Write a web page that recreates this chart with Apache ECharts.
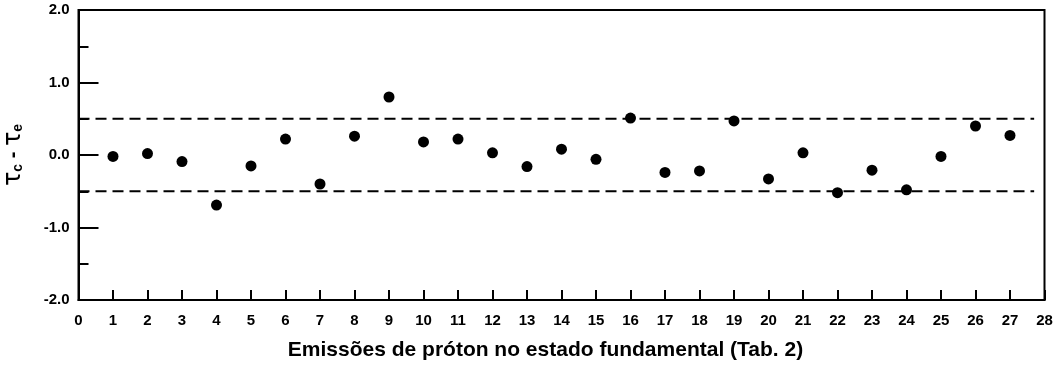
<!DOCTYPE html>
<html>
<head>
<meta charset="utf-8">
<script src="https://cdn.jsdelivr.net/npm/echarts@6/dist/echarts.min.js"></script>
<style>
  html, body { margin: 0; padding: 0; background: #fff; }
  #chart { width: 1058px; height: 366px; }
</style>
</head>
<body>
<div id="chart"></div>
<script>
// Emission index (Tab. 2) and the difference tau_c - tau_e for each one
const emissions = [1, 2, 3, 4, 5, 6, 7, 8, 9, 10, 11, 12, 13, 14, 15, 16, 17, 18, 19, 20, 21, 22, 23, 24, 25, 26, 27];
const deltaTau = [-0.02, 0.02, -0.09, -0.69, -0.15, 0.22, -0.40, 0.26, 0.80, 0.18, 0.22, 0.03, -0.16, 0.08, -0.06, 0.51, -0.24, -0.22, 0.47, -0.33, 0.03, -0.52, -0.21, -0.48, -0.02, 0.40, 0.27];

// Reference band drawn as dashed lines
const bandLevels = [0.5, -0.5];
const bandSpan = [0, 27.7];

// Axis ranges
const xRange = [0, 28];
const yRange = [-2, 2];

const points = emissions.map((e, i) => [e, deltaTau[i]]);

const font = 'Liberation Sans, Arial, sans-serif';

const bandSeries = bandLevels.map(level => ({
  type: 'line',
  data: bandSpan.map(x => [x, level]),
  symbol: 'none',
  silent: true,
  lineStyle: { color: '#000', width: 2, type: [11, 6] },
  z: 1
}));

const chart = echarts.init(document.getElementById('chart'));
chart.setOption({
  animation: false,
  grid: {
    left: 78.5, right: 13.5, top: 10, bottom: 66,
    containLabel: false,
    outerBoundsMode: 'none',
    show: true, borderColor: '#000', borderWidth: 2
  },
  xAxis: {
    type: 'value',
    min: xRange[0], max: xRange[1], interval: 1,
    splitLine: { show: false },
    axisLine: { onZero: false, lineStyle: { color: '#000', width: 2 } },
    axisTick: { inside: true, length: 10, lineStyle: { color: '#000', width: 2 } },
    axisLabel: { color: '#000', fontFamily: font, fontWeight: 'bold', fontSize: 15, margin: 13 },
    name: 'Emissões de próton no estado fundamental (Tab. 2)',
    nameLocation: 'middle',
    nameGap: 40,
    nameTextStyle: {
      color: '#000', fontFamily: font, fontWeight: 'bold', fontSize: 21,
      padding: [0, 32, 0, 0]
    }
  },
  yAxis: {
    type: 'value',
    min: yRange[0], max: yRange[1], interval: 1,
    splitLine: { show: false },
    axisLine: { onZero: false, lineStyle: { color: '#000', width: 2 } },
    axisTick: { inside: true, length: 20, lineStyle: { color: '#000', width: 2 } },
    minorTick: { show: true, splitNumber: 2, length: 10, lineStyle: { color: '#000', width: 2 } },
    axisLabel: {
      color: '#000', fontFamily: font, fontWeight: 'bold', fontSize: 15, margin: 9,
      formatter: v => v.toFixed(1)
    },
    name: '{t|τ}{s|c}{m| - }{t|τ}{s|e}',
    nameLocation: 'middle',
    nameGap: 53,
    nameTextStyle: {
      color: '#000', fontFamily: font,
      rich: {
        t: { fontFamily: 'DejaVu Sans, sans-serif', fontSize: 24, color: '#000' },
        s: { fontFamily: font, fontSize: 14, fontWeight: 'bold', color: '#000', verticalAlign: 'bottom', padding: [9, 0, 0, 0] },
        m: { fontFamily: font, fontSize: 20, fontWeight: 'bold', color: '#000' }
      }
    }
  },
  series: [
    ...bandSeries,
    {
      type: 'scatter',
      data: points,
      symbol: 'circle',
      symbolSize: 11,
      itemStyle: { color: '#000', opacity: 1 },
      z: 3
    }
  ]
});
</script>
</body>
</html>
